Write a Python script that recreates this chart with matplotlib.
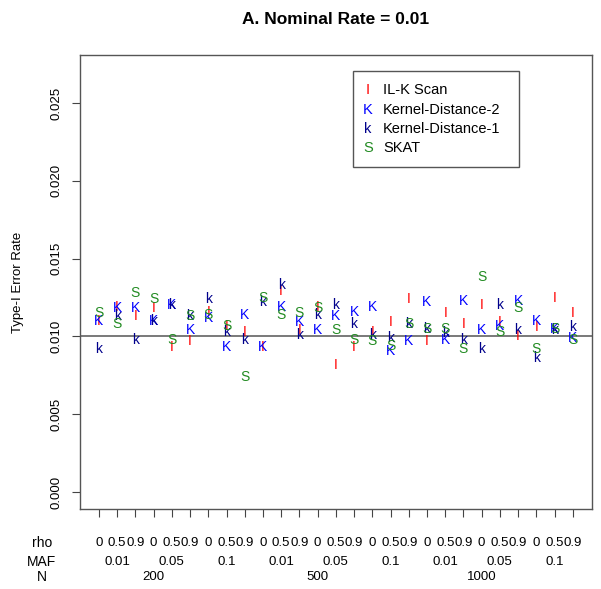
import numpy as np
import matplotlib
matplotlib.use('Agg')
import matplotlib.pyplot as plt
from matplotlib.patches import Rectangle

plt.rcParams['font.family'] = ['Liberation Sans', 'DejaVu Sans']

# settings: 3 N x 3 MAF x 3 rho
rho_labels = ['0', '0.5', '0.9']
maf_labels = ['0.01', '0.05', '0.1']
n_labels = ['200', '500', '1000']

# type-I error rates, one value per setting
ilk_scan = [0.0110, 0.0119, 0.0113, 0.0118, 0.0093, 0.0097, 0.0116, 0.0107, 0.0103,
            0.0093, 0.0129, 0.0104, 0.0119, 0.0082, 0.0093, 0.0103, 0.0109, 0.0124,
            0.0097, 0.0115, 0.0108, 0.0120, 0.0109, 0.0100, 0.0106, 0.0125, 0.0115]
kd2 = [0.0110, 0.0118, 0.0118, 0.0110, 0.0120, 0.0104, 0.0112, 0.0093, 0.0114,
       0.0093, 0.0119, 0.0109, 0.0104, 0.0113, 0.0116, 0.0119, 0.0091, 0.0097,
       0.0122, 0.0098, 0.0123, 0.0104, 0.0107, 0.0123, 0.0110, 0.0105, 0.0099]
kd1 = [0.0092, 0.0113, 0.0098, 0.0110, 0.0120, 0.0113, 0.0124, 0.0103, 0.0098,
       0.0122, 0.0133, 0.0101, 0.0114, 0.0120, 0.0108, 0.0101, 0.0099, 0.0108,
       0.0105, 0.0102, 0.0098, 0.0092, 0.0120, 0.0104, 0.0086, 0.0104, 0.0106]
skat = [0.0115, 0.0108, 0.0128, 0.0124, 0.0098, 0.0113, 0.0114, 0.0107, 0.0074,
        0.0125, 0.0114, 0.0115, 0.0118, 0.0104, 0.0098, 0.0097, 0.0094, 0.0108,
        0.0105, 0.0105, 0.0092, 0.0138, 0.0103, 0.0118, 0.0092, 0.0105, 0.0098]

series = [('I', 'IL-K Scan', '#ff0000', ilk_scan),
          ('K', 'Kernel-Distance-2', '#0000ff', kd2),
          ('k', 'Kernel-Distance-1', '#00008b', kd1),
          ('S', 'SKAT', '#228b22', skat)]

W, H = 601, 589
fig = plt.figure(figsize=(W / 100, H / 100), dpi=100)


def fx(px):
    return px / W


def fy(py):
    return 1 - py / H


# axes box in pixels: x 80..592, y 55..509
ax = fig.add_axes([fx(80), fy(509), fx(591.7) - fx(80), fy(55) - fy(509)])
fs = 9.5
x = np.arange(1, 28)

for sym, name, col, vals in series:
    for xi, v in zip(x, vals):
        ax.text(xi, v, sym, color=col, fontsize=10, ha='center', va='center')

ax.axhline(0.01, color='#555555', lw=1.1)

ax.set_xlim(-0.04, 28.04)
ax.set_ylim(-0.00108, 0.02808)
ax.set_yticks(np.arange(0, 0.0251, 0.005))
ax.set_yticklabels(['%.3f' % t for t in np.arange(0, 0.0251, 0.005)],
                   rotation=90, va='center', fontsize=fs)
ax.set_xticks(x)
ax.set_xticklabels([])
ax.tick_params(direction='out', length=5.5, width=0.8, color='#444444')
ax.tick_params(axis='y', pad=7)
for sp in ax.spines.values():
    sp.set_color('#555555')
    sp.set_linewidth(1)

# multi-level x labels
tr = ax.get_xaxis_transform()
for i, xi in enumerate(x):
    ax.text(xi, -0.0749, rho_labels[i % 3], transform=tr, ha='center', va='center',
            fontsize=fs, clip_on=False)
for j in range(9):
    ax.text(2 + 3 * j, -0.1167, maf_labels[j % 3], transform=tr, ha='center',
            va='center', fontsize=fs, clip_on=False)
for j in range(3):
    ax.text(4 + 9 * j, -0.1498, n_labels[j], transform=tr, ha='center',
            va='center', fontsize=fs, clip_on=False)
for lab, py in [('rho', 543), ('MAF', 562), ('N', 577)]:
    fig.text(fx(42), fy(py), lab, ha='center', va='center', fontsize=10)

fig.text(fx(18), fy(282), 'Type-I Error Rate', rotation=90, ha='center',
         va='center', fontsize=fs)
fig.text(fx(335.8), fy(19), 'A. Nominal Rate = 0.01', ha='center', va='center',
         fontsize=12.5, fontweight='bold')

# legend box
fig.add_artist(Rectangle((fx(353), fy(167)), fx(519) - fx(353), fy(71) - fy(167),
                         transform=fig.transFigure, fill=False,
                         edgecolor='#555555', lw=1))
for (sym, name, col, vals), py in zip(series, [90, 110, 129, 148]):
    fig.text(fx(368), fy(py), sym, color=col, ha='center', va='center', fontsize=10.5)
    fig.text(fx(383), fy(py), name, ha='left', va='center', fontsize=10.5)

fig.savefig('out.png', dpi=100)
